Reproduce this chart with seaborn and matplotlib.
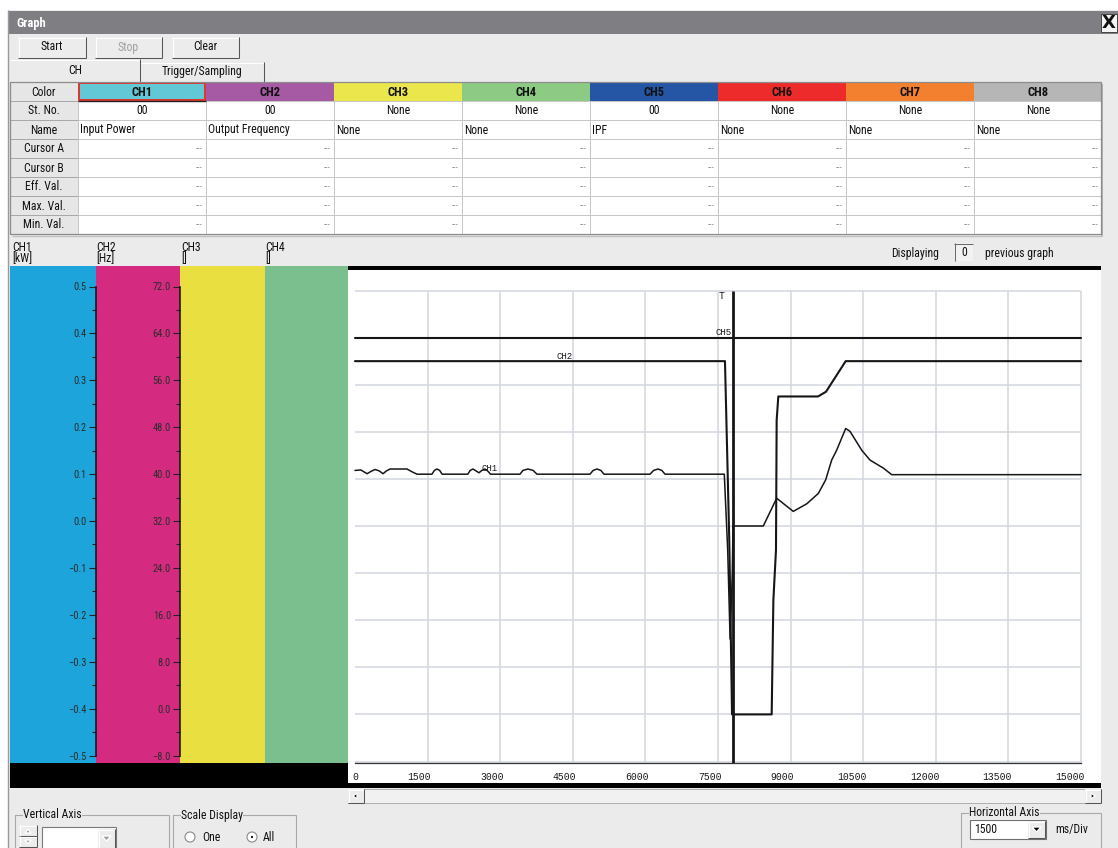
import matplotlib
matplotlib.use("Agg")
import matplotlib.pyplot as plt
import matplotlib.transforms as mtrans
from matplotlib.patches import Rectangle, Circle, Polygon
from matplotlib.ticker import MultipleLocator
from matplotlib import font_manager
import numpy as np
import pandas as pd
import seaborn as sns

# ---------------------------------------------------------------- data
channels = ["CH1", "CH2", "CH3", "CH4", "CH5", "CH6", "CH7", "CH8"]
channel_colors = ["#62c8d5", "#a65aa4", "#ebe64c", "#8dcb85",
                  "#2456a5", "#ee2b2b", "#f3802f", "#b6b6b6"]
station_numbers = ["00", "00", "None", "None", "00", "None", "None", "None"]
channel_names = ["Input Power", "Output Frequency", "None", "None",
                 "IPF", "None", "None", "None"]
row_labels = ["Color", "St. No.", "Name", "Cursor A", "Cursor B",
              "Eff. Val.", "Max. Val.", "Min. Val."]
scale_titles = ["CH1\n[kW]", "CH2\n[Hz]", "CH3\n[]", "CH4\n[]"]
scale_colors = ["#1da5db", "#d42b81", "#e9df41", "#7bbf8e"]

time_ticks_ms = [0, 1500, 3000, 4500, 6000, 7500, 9000, 10500, 12000, 13500, 15000]
ch1_ticks_kw = [-0.5, -0.4, -0.3, -0.2, -0.1, 0.0, 0.1, 0.2, 0.3, 0.4, 0.5]
ch2_ticks_hz = [-8.0, 0.0, 8.0, 16.0, 24.0, 32.0, 40.0, 48.0, 56.0, 64.0, 72.0]

# CH1 Input Power [kW]
ch1_t = [0, 120, 250, 330, 413, 500, 579, 650, 723, 900, 1074, 1180, 1281,
         1590, 1640, 1694, 1750, 1800,
         2330, 2380, 2438, 2500, 2562, 2620, 2686, 2740, 2800,
         3409, 3470, 3574, 3680, 3760,
         4855, 4920, 5000, 5080, 5144,
         6095, 6170, 6260, 6340, 6405,
         7630, 7700, 7750, 7795, 7810,
         8436, 8712, 9055, 9332, 9572, 9725, 9849, 9952, 10138,
         10227, 10469, 10640, 10915, 11088, 15000]
ch1_kw = [0.118, 0.119, 0.111, 0.116, 0.120, 0.117, 0.111, 0.117, 0.121, 0.121, 0.121, 0.115, 0.110,
          0.110, 0.118, 0.121, 0.118, 0.110,
          0.110, 0.118, 0.121, 0.117, 0.113, 0.118, 0.121, 0.117, 0.110,
          0.110, 0.118, 0.121, 0.118, 0.110,
          0.110, 0.118, 0.121, 0.118, 0.110,
          0.110, 0.118, 0.121, 0.118, 0.110,
          0.110, -0.05, -0.24, -0.10, 0.0,
          0.0, 0.059, 0.031, 0.047, 0.069, 0.098, 0.140, 0.161, 0.207,
          0.201, 0.161, 0.140, 0.123, 0.109, 0.109]

# CH2 Output Frequency [Hz]
ch2_t = [0, 7644, 7733, 7790, 8609, 8644, 8698, 8712, 8746, 9566, 9731, 10138, 15000]
ch2_hz = [60.0, 60.0, 29.6, 0.0, 0.0, 19.4, 27.9, 50.0, 54.0, 54.0, 54.8, 60.0, 60.0]

# CH5 IPF (drawn on the CH1 division grid)
ch5_t = [0, 15000]
ch5_level = [0.40, 0.40]

trigger_ms = 7810

# ---------------------------------------------------------------- style
sns.set_style("white")
avail = {f.name for f in font_manager.fontManager.ttflist}
UI = next((f for f in ["Liberation Sans Narrow", "Roboto Condensed", "Liberation Sans", "Arial"]
           if f in avail), "DejaVu Sans")
MONO = "Liberation Mono" if "Liberation Mono" in avail else "DejaVu Sans Mono"
plt.rcParams["font.family"] = [UI, "DejaVu Sans"]

W, H = 1118, 848
fig = plt.figure(figsize=(W / 100, H / 100), dpi=100)
fig.patch.set_facecolor("white")

WIN = "#ebebeb"
INK = "#161616"
GRID = "#d2d6de"


def px(x0, y0, x1, y1):
    return [x0 / W, 1 - y1 / H, (x1 - x0) / W, (y1 - y0) / H]


bg = fig.add_axes([0, 0, 1, 1])
bg.set_xlim(0, W)
bg.set_ylim(H, 0)
bg.axis("off")


def rect(x0, y0, x1, y1, fc, ec="none", lw=0.0, z=1):
    bg.add_patch(Rectangle((x0, y0), x1 - x0, y1 - y0, facecolor=fc,
                           edgecolor=ec, linewidth=lw, zorder=z))


def line(xs, ys, c, lw=0.75, z=2):
    bg.plot(xs, ys, color=c, lw=lw, zorder=z, solid_capstyle="butt")


def text(x, y, s, size=8.5, ha="left", va="center", color="#111", weight="normal", z=3, **kw):
    bg.text(x, y, s, fontsize=size, ha=ha, va=va, color=color,
            fontweight=weight, zorder=z, **kw)


def bevel(x0, y0, x1, y1, raised=True, fc="#ececec"):
    rect(x0, y0, x1, y1, fc)
    lt, dk = ("white", "#555555") if raised else ("#777777", "white")
    line([x0, x1], [y0 + 0.5, y0 + 0.5], lt)
    line([x0 + 0.5, x0 + 0.5], [y0, y1], lt)
    line([x0, x1], [y1 - 0.5, y1 - 0.5], dk)
    line([x1 - 0.5, x1 - 0.5], [y0, y1], dk)


# window frame
rect(8, 10, W, H, WIN)
line([8, 8], [10, H], "#9a9a9a", 1.0)
rect(9, 11, W, 34, "#7e7e83")
text(16, 23, "Graph", size=9, color="white", weight="bold")
rect(1101, 14, 1117, 32, "#f5f5f5", ec="#444444", lw=0.7)
text(1109, 23.5, "X", size=13, ha="center", weight="bold", family="DejaVu Sans")

# buttons
for (x0, x1, lab, col) in [(18, 86, "Start", "#111"), (95, 162, "Stop", "#a0a0a0"),
                           (172, 239, "Clear", "#111")]:
    bevel(x0, 37, x1, 58)
    text((x0 + x1) / 2, 47, lab, ha="center", color=col)

# tabs
rect(10, 59, 140, 83, WIN)
line([10, 140], [59.5, 59.5], "white")
line([139.5, 139.5], [59, 82], "#555555")
text(75, 70, "CH", ha="center")
rect(141, 62, 264, 82, WIN)
line([141, 264], [62.5, 62.5], "white")
line([263.5, 263.5], [62, 82], "#555555")
text(202, 72, "Trigger/Sampling", ha="center")

# table
ROW_Y = [82 + 19 * i for i in range(9)]
COL_X = [78 + 128 * i for i in range(9)]
for r, lab in enumerate(row_labels):
    y0, y1 = ROW_Y[r], ROW_Y[r + 1]
    rect(10, y0, 78, y1, "#e6e6e6", ec="#a8a8a8", lw=0.7)
    text(44, (y0 + y1) / 2 + 0.5, lab, ha="center")
    for c in range(8):
        x0, x1 = COL_X[c], COL_X[c + 1]
        if r == 0:
            rect(x0, y0, x1, y1, channel_colors[c])
            text((x0 + x1) / 2, (y0 + y1) / 2 + 0.5, channels[c], ha="center",
                 weight="bold", size=9)
        else:
            rect(x0, y0, x1, y1, "white", ec="#c6c6c6", lw=0.7)
            if r == 1:
                text((x0 + x1) / 2, (y0 + y1) / 2 + 0.5, station_numbers[c], ha="center")
            elif r == 2:
                text(x0 + 2, (y0 + y1) / 2 + 0.5, channel_names[c])
            else:
                text(x1 - 3, (y0 + y1) / 2, "---", ha="right", size=6.5, color="#8a8a8a")
rect(78.8, 82.8, 205.2, 100.2, "none", ec="#e2342a", lw=1.4, z=4)
line([78, 206], [101, 101], "#222222", 1.0, z=4)
rect(10, 82, 1101, 234, "none", ec="#8c8c8c", lw=0.9, z=5)
line([1102, 1102], [84, 236], "#b0b0b0", 1.4)
line([12, 1102], [235.5, 235.5], "#c0c0c0", 1.0)

# scale titles
for i, s in enumerate(scale_titles):
    x0 = [12, 96, 181, 265][i]
    text(x0, 253, s, size=8.5, va="center", linespacing=0.85)

text(891, 253, "Displaying", size=8.5)
rect(954, 243, 973, 261, "#f2f2f2")
line([954, 973], [243.5, 243.5], "#6a6a6a")
line([954.5, 954.5], [243, 261], "#6a6a6a")
text(964, 252, "0", ha="center", size=8.5)
text(985, 253, "previous graph", size=8.5)

# black bands
rect(348, 266, 1101, 270.5, "black", z=1)
rect(10, 763, 348, 788, "black")
rect(348, 763, 1101, 783, "white")
rect(348, 783, 1101, 788, "black")

# scroll bar
rect(348, 789, 1101, 803, "#f1f1f1", ec="#a5a5a5", lw=0.6)
bevel(348, 789, 364, 803)
bg.add_patch(Polygon([[353, 796], [357, 793], [357, 799]], closed=True, fc="black", zorder=3))
bevel(1085, 789, 1101, 803)
bg.add_patch(Polygon([[1095, 796], [1091, 793], [1091, 799]], closed=True, fc="black", zorder=3))

# bottom controls
def group(x0, y0, x1, y1, label):
    rect(x0, y0, x1, y1, "none", ec="#a9a9a9", lw=0.8)
    text(x0 + 8, y0, label, size=8.5, bbox=dict(fc=WIN, ec="none", pad=0.3))


group(15, 815, 169, 856, "Vertical Axis")
bevel(19, 825, 37, 836)
bevel(19, 836, 37, 847)
bg.add_patch(Polygon([[25, 833], [28, 829], [31, 833]], closed=True, fc="#9a9a9a", zorder=3))
bg.add_patch(Polygon([[25, 840], [28, 844], [31, 840]], closed=True, fc="#9a9a9a", zorder=3))
rect(42, 827, 116, 850, "white", ec="#7a7a7a", lw=0.8)
bevel(98, 829, 115, 848)
bg.add_patch(Polygon([[102, 836], [106.5, 841], [111, 836]], closed=True, fc="#9a9a9a", zorder=3))

group(173, 815, 296, 856, "Scale Display")
bg.add_patch(Circle((190, 837), 5, fc="white", ec="#8a8a8a", lw=0.8, zorder=3))
text(202, 837.5, "One", size=8.5)
bg.add_patch(Circle((252, 837), 5, fc="white", ec="#8a8a8a", lw=0.8, zorder=3))
bg.add_patch(Circle((252, 837), 1.8, fc="black", zorder=4))
text(263, 837.5, "All", size=8.5)

group(961, 813, 1101, 856, "Horizontal Axis")
rect(970, 820, 1046, 839, "white", ec="#6f6f6f", lw=0.8)
text(974, 829.5, "1500", size=8.5)
bevel(1028, 821, 1045, 838)
bg.add_patch(Polygon([[1032, 827], [1036.5, 832], [1041, 827]], closed=True, fc="black", zorder=3))
text(1055, 829.5, "ms/Div", size=8.5)

# ---------------------------------------------------------------- scale columns
col_edges = [10, 96, 180, 265, 348]
col_axes = []
for i in range(4):
    a = fig.add_axes(px(col_edges[i], 266, col_edges[i + 1], 763))
    a.set_facecolor(scale_colors[i])
    a.set_xticks([])
    a.set_yticks([])
    for s in a.spines.values():
        s.set_visible(False)
    col_axes.append(a)


def fmt(v):
    return f"{v:.1f}".replace("-", "\u2212")


# CH1 scale (kW) on the left edge of the magenta column
a1 = col_axes[1]
a1.set_ylim(-(763 - 521) / 469, (521 - 266) / 469)
a1.spines["left"].set_visible(True)
a1.spines["left"].set_color("#111111")
a1.spines["left"].set_linewidth(1.1)
a1.spines["left"].set_bounds(-0.5, 0.5)
a1.set_yticks(ch1_ticks_kw, labels=[fmt(v) for v in ch1_ticks_kw])
a1.yaxis.set_minor_locator(MultipleLocator(0.05))

# CH2 scale (Hz) on the left edge of the yellow column
a2 = col_axes[2]
a2.set_ylim(32 - 80 * (763 - 521) / 469, 32 + 80 * (521 - 266) / 469)
a2.spines["left"].set_visible(True)
a2.spines["left"].set_color("#111111")
a2.spines["left"].set_linewidth(1.1)
a2.spines["left"].set_bounds(-8, 72)
a2.set_yticks(ch2_ticks_hz, labels=[fmt(v) for v in ch2_ticks_hz])
a2.yaxis.set_minor_locator(MultipleLocator(4))

for a in (a1, a2):
    a.tick_params(axis="y", which="major", left=True, length=5, width=0.8, color="#222222",
                  labelsize=7.5, labelcolor="#2b2b2b", pad=1.5)
    a.tick_params(axis="y", which="minor", left=True, length=3, width=0.8, color="#222222")

# ---------------------------------------------------------------- plot area
ax = fig.add_axes(px(348, 270, 1101, 763))
ax.set_facecolor("white")
t_per_px = 15000 / 726
ax.set_xlim(-(355 - 348) * t_per_px, (1101 - 355) * t_per_px)
ax.set_ylim(-(763 - 526) / 471, (526 - 270) / 471)
for k, s in ax.spines.items():
    s.set_visible(k == "bottom")
ax.spines["bottom"].set_color("#333333")
ax.spines["bottom"].set_linewidth(0.9)
ax.spines["bottom"].set_bounds(0, 15000)
ax.set_yticks([])
ax.set_xticks(time_ticks_ms, labels=[str(v) for v in time_ticks_ms])
ax.tick_params(axis="x", length=6, width=0.8, color="#333333", labelsize=8,
               labelcolor="#1a1a1a", pad=0.5)
shift = mtrans.ScaledTranslation(0.035, 0, fig.dpi_scale_trans)
for lbl in ax.get_xticklabels():
    lbl.set_ha("right")
    lbl.set_fontfamily(MONO)
    lbl.set_fontsize(7)
    lbl.set_transform(lbl.get_transform() + shift)

ax.hlines(ch1_ticks_kw, 0, 15000, color=GRID, lw=1.1, zorder=0.5)
ax.vlines(time_ticks_ms[1:], ax.get_ylim()[0], 0.5, color=GRID, lw=1.1, zorder=0.5)

sns.lineplot(x=ch5_t, y=ch5_level, ax=ax, color=INK, linewidth=1.5,
             estimator=None, sort=False, legend=False)
sns.lineplot(x=ch1_t, y=ch1_kw, ax=ax, color=INK, linewidth=1.1,
             estimator=None, sort=False, legend=False)
ax.vlines(trigger_ms, ax.get_ylim()[0], 0.5, color=INK, lw=2.0, zorder=3)
ax.set_xlabel("")
ax.set_ylabel("")

ax2 = ax.twinx()
ax2.set_ylim(32 + 80 * ax.get_ylim()[0], 32 + 80 * ax.get_ylim()[1])
sns.lineplot(x=ch2_t, y=ch2_hz, ax=ax2, color=INK, linewidth=1.5,
             estimator=None, sort=False, legend=False)
ax2.axis("off")

ax.text(2789, 0.112, "CH1", fontsize=6.5, family=MONO, ha="center", va="bottom", color=INK)
ax2.text(4339, 60.0, "CH2", fontsize=6.5, family=MONO, ha="center", va="bottom", color=INK)
ax.text(trigger_ms - 30, 0.402, "CH5", fontsize=6.5, family=MONO, ha="right", va="bottom", color=INK)
ax.text(trigger_ms - 230, 0.498, "T", fontsize=7, family=MONO, ha="center", va="top", color=INK)

fig.savefig("out.png", dpi=100)
